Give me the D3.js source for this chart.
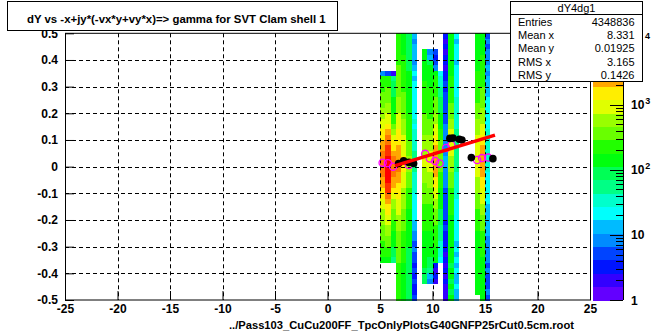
<!DOCTYPE html>
<html><head><meta charset="utf-8">
<script src="https://cdn.jsdelivr.net/npm/d3@7"></script>
<style>
body{margin:0;background:#fff}
svg{display:block}
text{font-family:"Liberation Sans",Arial,Helvetica,sans-serif}
</style>
</head><body>
<svg id="c" width="656" height="334"></svg>
<script>
// ---------------- data ----------------
const titleText = "dY vs -x+jy*(-vx*y+vy*x)=> gamma for SVT Clam shell 1";
const fileText = "../Pass103_CuCu200FF_TpcOnlyPlotsG40GNFP25rCut0.5cm.root";
const xTicksMajor = [-25,-20,-15,-10,-5,0,5,10,15,20,25];
const yTicksMajor = [-0.5,-0.4,-0.3,-0.2,-0.1,0,0.1,0.2,0.3,0.4,0.5];
const statsTitle = "dY4dg1";
const statsNames = ["Entries","Mean x","Mean y","RMS x","RMS y"];
const statsValues = ["4348836","8.331","0.01925","3.165","0.1426"];

// x bin lower edges (bin width 0.5) of the filled columns
const xBinLow = [5.0,5.5,6.0,6.5,7.0,7.5,8.0,9.0,9.5,10.0,10.5,11.0,11.5,12.0,14.0,14.5,15.0];
const xBinWidth = 0.5;
// y rows of 0.02, listed from the top (0.50) downwards, 50 rows
const yRowHeight = 0.02;
const colA=[0,0,0,0,0,0,0,8,222,222,222,355,355,355,570,570,910,910,1450,1450,2320,2320,3720,3720,3720,3720,3720,2320,2320,1450,1450,910,910,570,570,570,355,355,355,222,222,222,139,0,0,0,0,0,0,0];
const colB=[0,0,0,0,0,0,0,5,222,222,355,355,355,570,570,910,910,1450,2320,3720,3720,5940,5940,9500,9500,9500,9500,9500,5940,5940,3720,2320,1450,1450,910,910,570,570,355,355,222,222,139,0,0,0,0,0,0,0];
const colC=[0,0,0,0,0,0,0,2,54,87,87,87,139,139,139,222,222,355,570,910,1450,1450,2320,3720,3720,3720,3720,2320,2320,1450,910,570,570,355,355,222,222,139,139,139,87,87,54,0,0,0,0,0,0,0];
const colD=[222,222,222,222,222,222,355,355,355,355,355,355,570,570,570,910,910,910,1450,1450,1450,2320,2320,2320,3720,3720,2320,2320,1450,1450,1450,910,910,910,570,570,570,355,355,355,355,355,355,222,222,222,222,222,222,222];
const colE=[139,139,139,139,222,222,222,222,222,222,222,355,355,355,355,355,570,570,570,910,910,910,910,1450,1450,1450,910,910,910,570,570,570,570,355,355,355,355,222,222,222,222,222,222,139,139,139,139,139,139,139];
const colF=[87,87,87,87,87,87,87,139,139,139,139,139,139,139,139,222,222,222,222,222,355,355,355,570,570,570,355,355,355,222,222,222,222,139,139,139,139,139,139,139,87,87,87,87,87,87,87,87,87,87];
const colG=[13,8,13,13,13,8,13,21,13,21,21,21,21,21,21,21,34,21,34,34,34,34,54,54,54,54,34,34,34,34,21,21,21,21,21,13,13,8,8,5,8,5,5,3,5,3,5,3,3,5];
const colH=[0,0,0,139,139,139,139,139,139,222,222,222,222,222,222,355,355,355,355,570,570,570,570,910,910,570,570,570,355,355,355,355,222,222,222,222,222,139,139,139,139,139,139,139,87,87,87,0,0,0];
const colI=[0,0,0,8,13,87,139,139,139,139,222,222,222,222,222,222,355,355,355,570,570,570,910,910,910,910,570,570,570,355,355,355,222,222,222,222,222,139,139,139,139,139,87,87,54,13,8,0,0,0];
const colJ=[0,0,0,5,3,5,8,139,222,222,222,222,355,355,355,570,570,910,910,1450,1450,2320,2320,2320,2320,2320,2320,1450,1450,910,910,570,570,355,355,355,222,222,222,222,139,139,139,3,2,3,2,0,0,0];
const colK=[0,0,0,0,0,0,0,21,34,34,54,54,87,87,87,139,139,139,222,222,355,355,355,355,355,355,222,222,222,139,139,139,139,87,87,87,54,54,54,34,34,34,21,0,0,0,0,0,0,0];
const colL=[3,2,3,2,3,3,2,3,3,5,3,5,5,5,5,5,5,8,8,8,8,8,8,13,13,8,8,8,8,5,5,5,5,5,5,3,5,3,3,3,3,2,3,2,3,2,3,2,2,2];
const colM=[139,139,139,139,139,139,139,139,222,222,222,222,222,355,355,355,570,570,910,910,910,910,910,570,570,570,355,355,355,222,222,222,222,222,139,139,139,139,139,139,139,139,139,87,139,139,87,139,87,139];
const colN=[21,13,21,21,21,13,21,21,21,21,21,21,34,34,34,34,34,34,54,54,54,54,54,54,54,54,34,34,34,34,34,21,21,21,21,21,21,21,21,13,21,13,21,13,21,13,13,21,13,13];
const colO=[139,139,139,139,139,139,139,222,222,222,222,222,222,355,355,355,570,570,570,910,910,910,910,910,910,910,910,570,570,570,355,355,355,222,222,222,222,139,139,139,139,139,139,139,139,139,139,139,139];
const colP=[139,139,139,139,222,222,222,222,222,222,355,355,355,355,570,570,570,910,910,1450,1450,2320,2320,2320,2320,2320,2320,1450,1450,910,910,910,570,570,355,355,355,222,222,222,222,222,139,139,139,139,139,139,139,139];
const colQ=[5,8,5,8,8,8,13,8,13,13,13,13,21,21,21,21,21,21,34,34,34,34,34,34,34,34,21,21,21,21,21,21,13,13,13,13,13,13,8,8,8,8,8,5,8,5,5,5,8,5];
const columns=[colA,colB,colC,colD,colE,colF,colG,colH,colI,colJ,colK,colL,colM,colN,colO,colP,colQ];

const zMin = 1, zMax = 12600, nBands = 20, nPalette = 50;

// profile points (black), second profile (magenta open), fit line (red)
const blackX=[6.77,7.25,7.75,8.2,11.65,11.95,12.55,12.8,13.7,15.75];
const blackY=[0.012,0.022,0.016,0.012,0.106,0.107,0.103,0.100,0.034,0.030];
const magX=[5.25,5.75,6.25,7.75,9.3,9.75,10.25,10.68,11.3,11.8,14.25,14.72,15.3];
const magY=[0.015,0.013,0.0,0.006,0.048,0.031,0.021,0.012,0.07,0.081,0.025,0.032,0.034];
const fitX=[6.45,15.95];
const fitY=[0.004,0.118];

// ---------------- drawing ----------------
const svg = d3.select("#c");
const fr = {l:65, r:590, t:33.3, b:300};
const x = d3.scaleLinear().domain([-25,25]).range([fr.l,fr.r]);
const y = d3.scaleLinear().domain([-0.5,0.5]).range([fr.b,fr.t]);
const logMax = Math.log10(zMax);

function paletteColor(band){
  const idx = Math.floor((band+0.99)*nPalette/nBands);
  const hue = 280 - (idx+1)*(280/nPalette);
  return d3.hsl(hue,1,0.5).formatHex();
}
function cellColor(c){
  let b = Math.floor(Math.log10(c)/logMax*nBands);
  b = Math.max(0,Math.min(nBands-1,b));
  return paletteColor(b);
}

svg.append("rect").attr("width",656).attr("height",334).attr("fill","#fff");

// cells
const cells = [];
columns.forEach((col,ci)=>{
  col.forEach((c,ri)=>{
    if(c>0) cells.push({x0:xBinLow[ci], yTop:0.5-ri*yRowHeight, c});
  });
});
svg.append("g").attr("shape-rendering","crispEdges").selectAll("rect").data(cells).join("rect")
  .attr("x",d=>x(d.x0)).attr("width",d=>x(d.x0+xBinWidth)-x(d.x0))
  .attr("y",d=>y(d.yTop)).attr("height",d=>y(d.yTop-yRowHeight)-y(d.yTop)+0.5)
  .attr("fill",d=>cellColor(d.c));

// grid
const grid = svg.append("g").attr("stroke","#000").attr("stroke-width",1).attr("stroke-dasharray","4,3");
xTicksMajor.slice(1,-1).forEach(v=>{
  grid.append("line").attr("x1",Math.round(x(v))+0.5).attr("x2",Math.round(x(v))+0.5).attr("y1",fr.t).attr("y2",fr.b);
});
yTicksMajor.slice(1,-1).forEach(v=>{
  grid.append("line").attr("y1",Math.round(y(v))+0.5).attr("y2",Math.round(y(v))+0.5).attr("x1",fr.l).attr("x2",fr.r);
});

// markers
svg.append("g").selectAll("circle").data(magX.map((v,i)=>[v,magY[i]])).join("circle")
  .attr("cx",d=>x(d[0])).attr("cy",d=>y(d[1])).attr("r",3.6)
  .attr("fill","none").attr("stroke","#ff00ff").attr("stroke-width",1.3);
svg.append("g").selectAll("circle").data(blackX.map((v,i)=>[v,blackY[i]])).join("circle")
  .attr("cx",d=>x(d[0])).attr("cy",d=>y(d[1])).attr("r",3.8).attr("fill","#000");
svg.append("line").attr("x1",x(fitX[0])).attr("y1",y(fitY[0])).attr("x2",x(fitX[1])).attr("y2",y(fitY[1]))
  .attr("stroke","#ff0000").attr("stroke-width",3.5);

// frame
svg.append("rect").attr("x",fr.l+0.5).attr("y",fr.t).attr("width",fr.r-fr.l).attr("height",fr.b-fr.t)
  .attr("fill","none").attr("stroke","#000");

// x axis
const fmt = d=>String(+d.toFixed(1));
const gx = svg.append("g").attr("transform",`translate(0,${fr.b})`);
gx.call(d3.axisBottom(x).tickValues(d3.range(-25,26,1)).tickSize(-5).tickFormat(""));
gx.call(d3.axisBottom(x).tickValues(xTicksMajor).tickSize(-9).tickPadding(4).tickFormat(fmt));
gx.selectAll(".domain").remove();
gx.selectAll("text").attr("font-size",12).attr("font-weight","bold").attr("font-family","Liberation Sans, Arial, sans-serif").attr("fill","#000");
// y axis
const gy = svg.append("g").attr("transform",`translate(${fr.l},0)`);
gy.call(d3.axisLeft(y).tickValues(d3.range(-50,51,2).map(v=>v/100)).tickSize(-5).tickFormat(""));
gy.call(d3.axisLeft(y).tickValues(yTicksMajor).tickSize(-9).tickPadding(7).tickFormat(fmt));
gy.selectAll(".domain").remove();
gy.selectAll("text").attr("font-size",12).attr("font-weight","bold").attr("font-family","Liberation Sans, Arial, sans-serif").attr("fill","#000");

// colour bar
const cb = {l:593, r:623};
const z = d3.scaleLog().domain([zMin,zMax]).range([fr.b,fr.t]);
const gb = svg.append("g").attr("shape-rendering","crispEdges");
d3.range(nBands).forEach(b=>{
  const lo = Math.pow(10,b*logMax/nBands), hi = Math.pow(10,(b+1)*logMax/nBands);
  gb.append("rect").attr("x",cb.l).attr("width",cb.r-cb.l).attr("y",z(hi)).attr("height",z(lo)-z(hi)+0.5).attr("fill",paletteColor(b));
});
svg.append("line").attr("x1",cb.r+0.5).attr("x2",cb.r+0.5).attr("y1",fr.t).attr("y2",fr.b).attr("stroke","#000");
const zTicks = [];
for(let e=0;e<=4;e++) for(let m=1;m<=9;m++){ const v=m*Math.pow(10,e); if(v<=zMax) zTicks.push(v); }
svg.append("g").selectAll("line").data(zTicks).join("line")
  .attr("x1",d=>cb.r-( [1,10,100,1000,10000].includes(d)?13:7)).attr("x2",cb.r)
  .attr("y1",d=>Math.round(z(d))+0.5).attr("y2",d=>Math.round(z(d))+0.5).attr("stroke","#000");
const zLab = svg.append("g").attr("font-size",12).attr("font-weight","bold").attr("fill","#000");
[[1,""],[10,""],[100,"2"],[1000,"3"]].forEach(([v,ex])=>{
  const t = zLab.append("text").attr("x",631).attr("y",z(v)+4.5).text(v===1?"1":"10");
  if(ex) t.append("tspan").attr("font-size",9).attr("dy",-5).attr("dx",1).text(ex);
});
// 10^4: only its exponent shows beside the stats box
zLab.append("text").attr("x",645).attr("y",z(10000)-0.5).attr("font-size",9).text("4");

// title box
svg.append("rect").attr("x",7.5).attr("y",1.5).attr("width",330).attr("height",29).attr("fill","#fff").attr("stroke","#000");
svg.append("text").attr("x",27).attr("y",22.5).attr("font-size",11.4).attr("font-weight","bold").text(titleText);

// stats box
const sb = {l:510.5, r:642.5, t:1.5, b:81.5};
svg.append("rect").attr("x",sb.l).attr("y",sb.t).attr("width",sb.r-sb.l).attr("height",sb.b-sb.t).attr("fill","#fff").attr("stroke","#000");
svg.append("line").attr("x1",sb.l).attr("x2",sb.r).attr("y1",14.5).attr("y2",14.5).attr("stroke","#000");
svg.append("text").attr("x",(sb.l+sb.r)/2).attr("y",11.5).attr("text-anchor","middle").attr("font-size",11).text(statsTitle);
statsNames.forEach((n,i)=>{
  const yy = 25.5 + i*13.4;
  svg.append("text").attr("x",518).attr("y",yy).attr("font-size",11).text(n);
  svg.append("text").attr("x",634.5).attr("y",yy).attr("text-anchor","end").attr("font-size",11).text(statsValues[i]);
});

// x axis title (file name)
svg.append("text").attr("x",574).attr("y",329).attr("text-anchor","end").attr("font-size",11.2).attr("font-weight","bold").text(fileText);
</script>
</body></html>
